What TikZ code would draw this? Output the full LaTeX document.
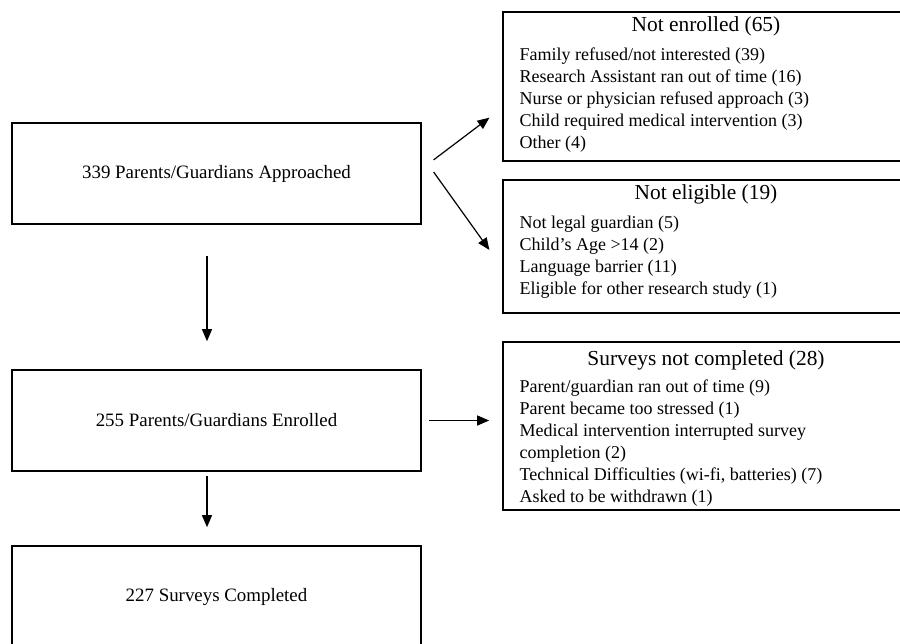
\documentclass[tikz,border=0pt]{standalone}
\usepackage{fontspec}
\setmainfont{Liberation Serif}
\usetikzlibrary{arrows.meta,positioning}

\tikzset{
  stage/.style={draw, line width=0.8pt, minimum width=204.5pt, minimum height=50.5pt,
    font=\fontsize{9.45}{11}\selectfont},
  reasonbox/.style={draw, line width=0.8pt, minimum width=203pt, inner sep=0pt},
  reasontitle/.style={inner sep=0pt, anchor=north, font=\fontsize{10.7}{12}\selectfont},
  reasonlist/.style={inner sep=0pt, anchor=north west, align=left,
    font=\fontsize{9}{11}\selectfont},
  flow/.style={-{Triangle[length=6pt,width=5pt]}, line width=0.6pt}
}

\begin{document}
\begin{tikzpicture}[x=0.5pt,y=-0.5pt]
    \clip (0,0) rectangle (900,643);

    % main stages
    \node[stage] (approached) at (216.5,173.5) {339 Parents/Guardians Approached};
    \node[stage] (enrolled) at (216.5,420.5) {255 Parents/Guardians Enrolled};
    \node[stage] (completed) at (216.5,596.5) {227 Surveys Completed};

    % exclusions
    \node[reasonbox, minimum height=74.5pt] (notenrolled) at (706,86.5) {};
    \node[reasontitle] (netitle) at ([yshift=-2.5pt]notenrolled.north) {Not enrolled (65)};
    \node[reasonlist] (nelist) at ([shift={(8.5pt,-18pt)}]notenrolled.north west)
        {Family refused/not interested (39)\\
         Research Assistant ran out of time (16)\\
         Nurse or physician refused approach (3)\\
         Child required medical intervention (3)\\
         Other (4)};

    \node[reasonbox, minimum height=66.5pt] (noteligible) at (706,246.5) {};
    \node[reasontitle] (ngtitle) at ([yshift=-2.5pt]noteligible.north) {Not eligible (19)};
    \node[reasonlist] (nglist) at ([shift={(8.5pt,-18pt)}]noteligible.north west)
        {Not legal guardian (5)\\
         Child’s Age >14 (2)\\
         Language barrier (11)\\
         Eligible for other research study (1)};

    \node[reasonbox, minimum height=84pt] (notcompleted) at (706,426) {};
    \node[reasontitle] (nctitle) at ([yshift=-4.5pt]notcompleted.north) {Surveys not completed (28)};
    \node[reasonlist] (nclist) at ([shift={(8.5pt,-19pt)}]notcompleted.north west)
        {Parent/guardian ran out of time (9)\\
         Parent became too stressed (1)\\
         Medical intervention interrupted survey\\
         completion (2)\\
         Technical Difficulties (wi-fi, batteries) (7)\\
         Asked to be withdrawn (1)};

    % arrows
    \draw[flow, shorten <=15.5pt, shorten >=14pt] ([xshift=-4.75pt]approached.south) -- ([xshift=-4.75pt]enrolled.north);
    \draw[flow, shorten <=2pt, shorten >=9pt] ([xshift=-4.75pt]enrolled.south) -- ([xshift=-4.75pt]completed.north);
    \draw[flow, shorten <=7.4pt, shorten >=8pt] ([yshift=2.35pt]approached.east) -- ([yshift=-10.75pt]notenrolled.west);
    \draw[flow, shorten <=10.2pt, shorten >=11pt] ([yshift=9pt]approached.east) -- ([yshift=-10.65pt]noteligible.west);
    \draw[flow, shorten <=3.5pt, shorten >=6.5pt] (enrolled.east) -- (enrolled.east -| notcompleted.west);
\end{tikzpicture}
\end{document}
